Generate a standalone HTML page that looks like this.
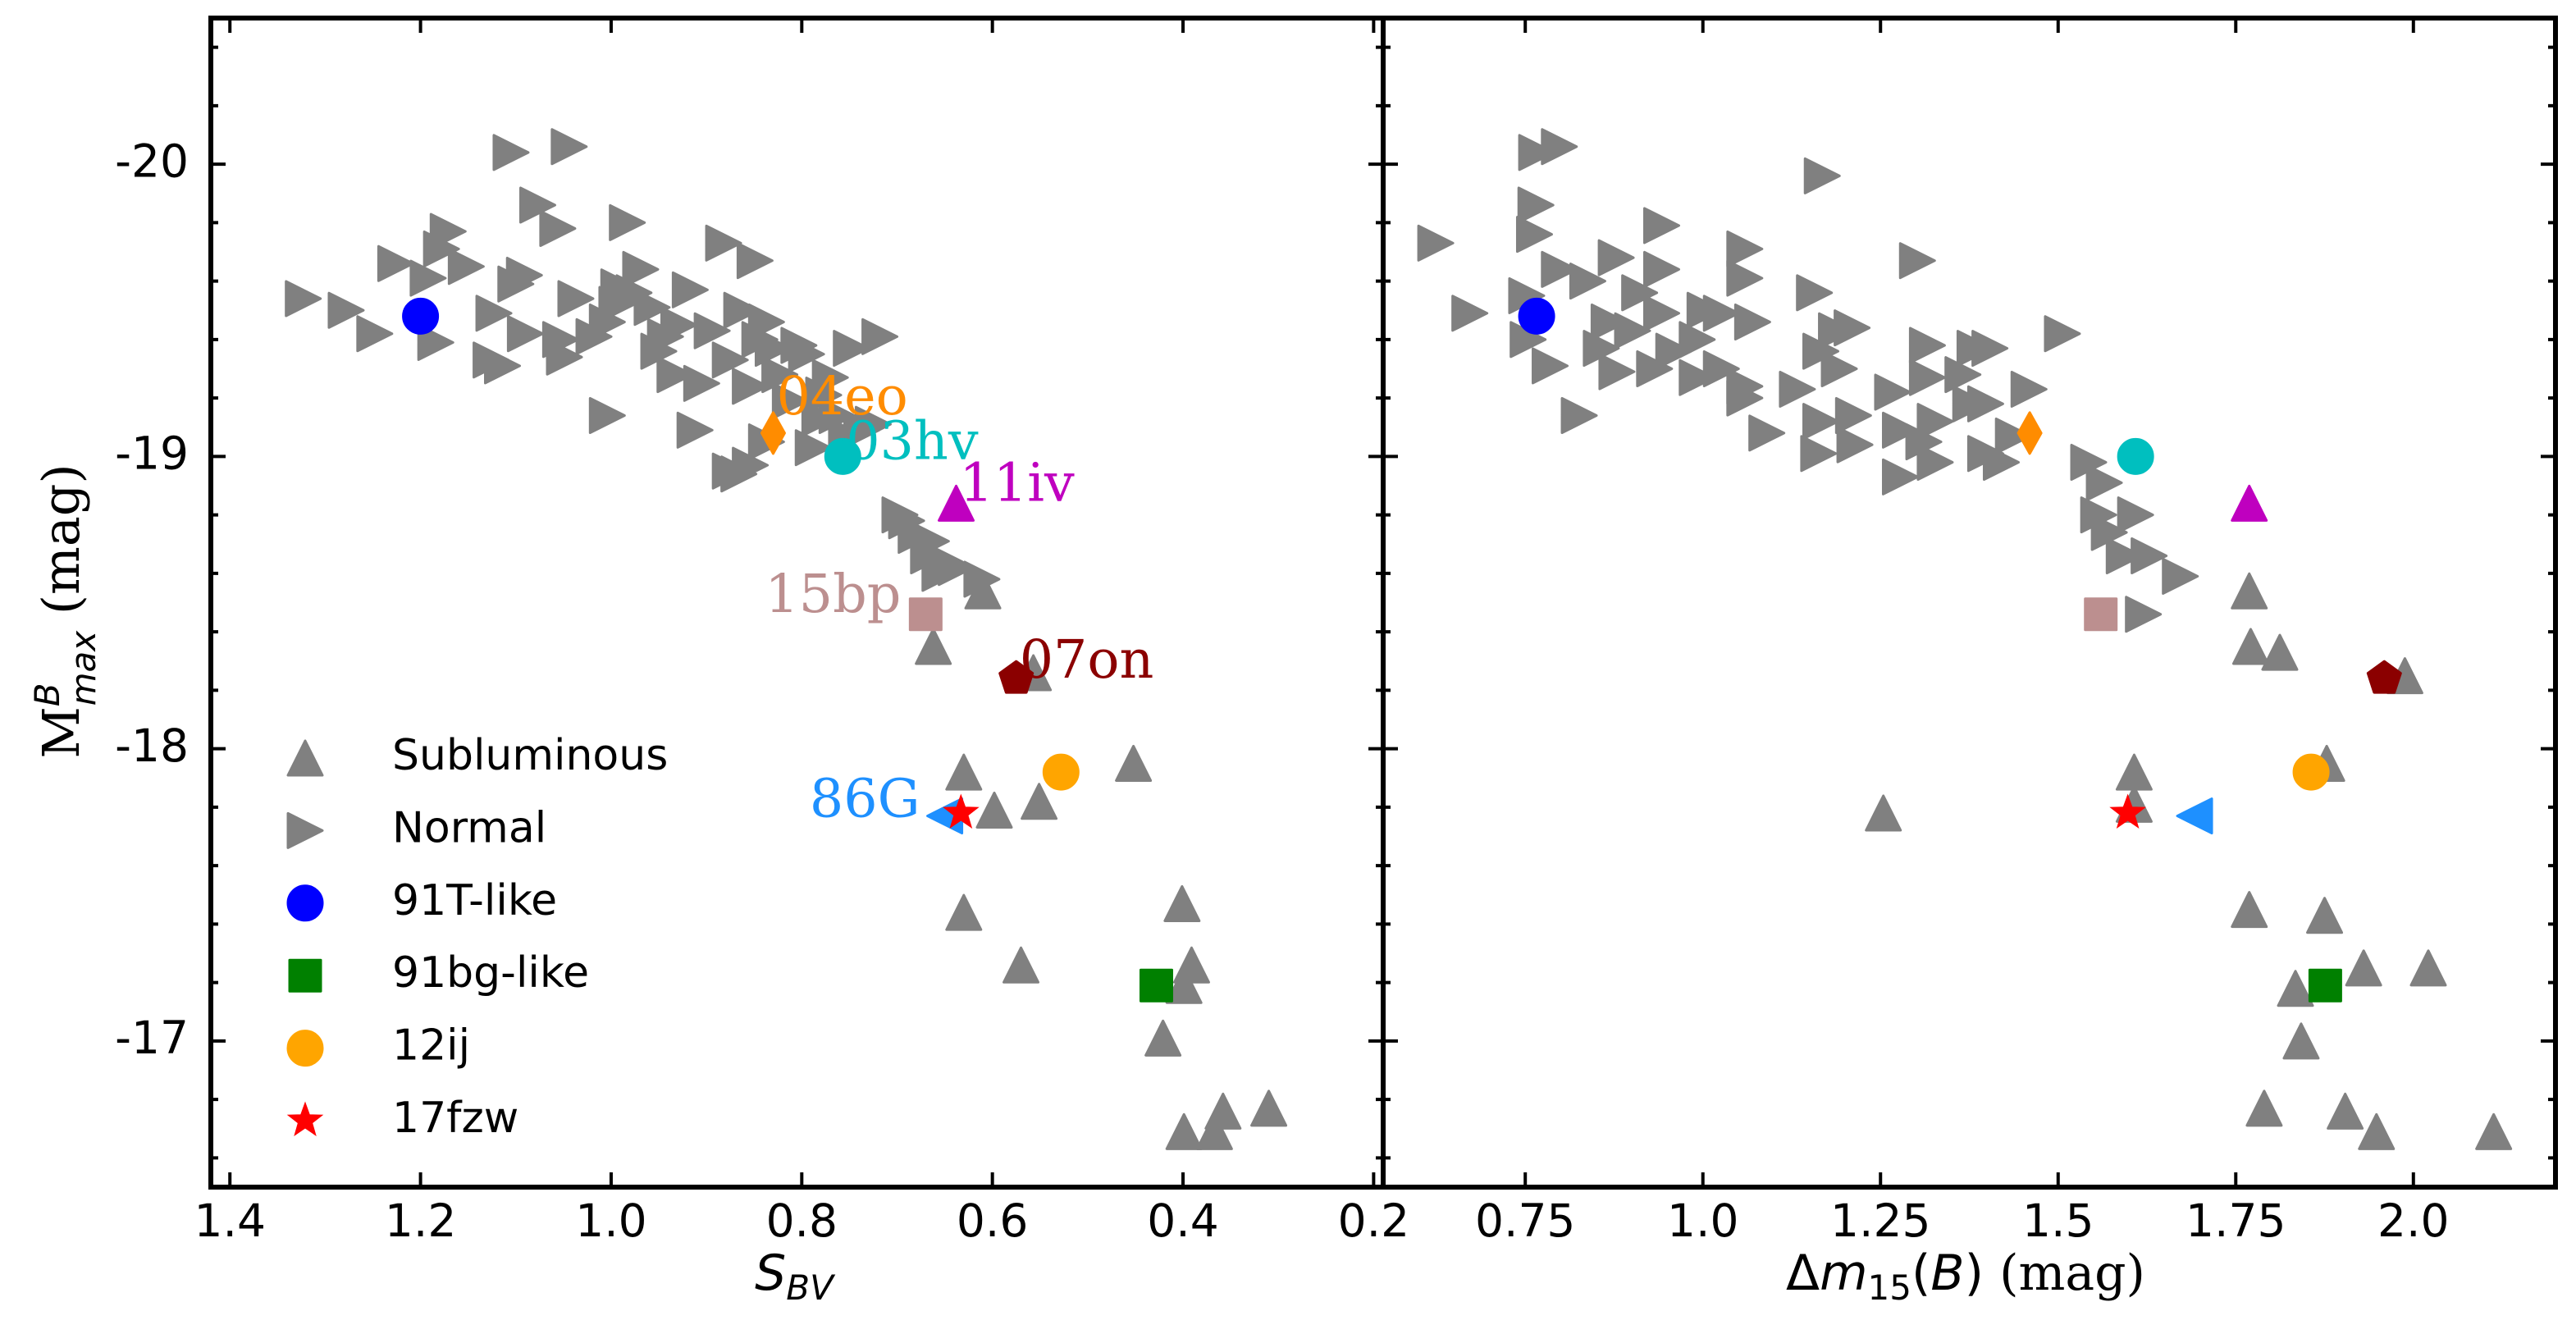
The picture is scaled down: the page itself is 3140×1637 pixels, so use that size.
<!DOCTYPE html>
<html><head><meta charset="utf-8"><style>
html,body{margin:0;padding:0;background:#fff;}
svg{display:block;}
</style></head><body>
<svg id="chart" width="3140" height="1637" viewBox="0 0 3140 1637" xmlns="http://www.w3.org/2000/svg" font-family="DejaVu Sans, Liberation Sans, sans-serif">
<rect width="3140" height="1637" fill="#fff"/>
<g id="marks"></g>
<g id="axes"></g>
</svg>
<script>
// ---- data: left panel (s_BV, M_B) ----
const leftNormalX = [1.323,1.278,1.248,1.226,1.192,1.184,1.178,1.171,1.152,1.126,1.123,1.114,1.100,1.091,1.090,1.105,1.044,1.077,1.056,1.053,1.037,1.049,1.018,1.004,1.004,0.992,0.983,0.994,0.976,0.969,0.957,0.950,0.943,0.933,0.929,0.917,0.912,0.905,0.894,0.882,0.875,0.863,0.854,0.849,0.844,0.837,0.830,0.823,0.812,0.803,0.795,0.788,0.781,0.777,0.770,0.763,0.753,0.748,0.737,0.718,0.725,0.697,0.680,0.664,0.650,0.611,0.638,0.655,0.866,0.854,0.837,0.875,0.667,0.690];
const leftNormalY = [-19.54,-19.50,-19.42,-19.66,-19.61,-19.39,-19.71,-19.77,-19.65,-19.33,-19.49,-19.31,-19.59,-19.62,-19.42,-20.04,-20.06,-19.86,-19.78,-19.40,-19.54,-19.34,-19.41,-19.46,-19.14,-19.58,-19.80,-19.52,-19.56,-19.64,-19.51,-19.36,-19.41,-19.28,-19.45,-19.57,-19.09,-19.25,-19.43,-19.73,-19.33,-19.50,-19.24,-19.67,-19.40,-19.46,-19.37,-19.28,-19.19,-19.38,-19.35,-19.03,-19.13,-19.21,-19.27,-19.14,-19.07,-19.37,-19.09,-19.41,-19.11,-18.80,-18.73,-18.71,-18.64,-18.58,-18.62,-18.60,-18.94,-18.97,-19.05,-18.95,-18.66,-18.78];
const leftSubX = [0.610,0.662,0.557,0.630,0.598,0.551,0.452,0.630,0.570,0.401,0.391,0.399,0.421,0.399,0.358,0.367,0.310];
const leftSubY = [-18.54,-18.35,-18.26,-17.92,-17.79,-17.82,-17.95,-17.44,-17.26,-17.47,-17.26,-17.19,-17.01,-16.69,-16.76,-16.69,-16.77];
// ---- data: right panel (dm15, M_B) ----
const rightNormalX = [0.624,0.672,0.766,0.798,0.765,0.763,0.752,0.754,0.798,0.838,0.785,0.826,0.878,0.911,0.942,0.942,0.942,0.868,0.901,0.857,0.879,0.932,0.959,0.992,0.992,1.003,1.026,1.059,1.059,1.070,1.026,1.059,1.059,1.090,1.133,1.157,1.168,1.166,1.188,1.166,1.163,1.192,1.212,1.214,1.210,1.267,1.278,1.278,1.302,1.316,1.316,1.327,1.311,1.327,1.377,1.366,1.383,1.404,1.398,1.398,1.420,1.437,1.459,1.506,1.543,1.565,1.557,1.572,1.609,1.593,1.628,1.672,1.620];
const rightNormalY = [-19.73,-19.49,-20.04,-20.06,-19.86,-19.76,-19.55,-19.40,-19.64,-19.60,-19.31,-19.14,-19.68,-19.56,-19.79,-19.64,-19.49,-19.46,-19.43,-19.37,-19.29,-19.30,-19.36,-19.40,-19.27,-19.50,-19.49,-19.71,-19.61,-19.46,-19.30,-19.24,-19.20,-19.08,-19.23,-19.56,-19.96,-19.36,-19.43,-19.12,-19.01,-19.30,-19.14,-19.04,-19.44,-19.22,-19.09,-18.93,-19.67,-19.38,-19.27,-19.12,-19.05,-18.98,-19.18,-19.28,-19.37,-19.37,-19.18,-19.01,-18.98,-19.07,-19.23,-19.42,-18.98,-18.91,-18.80,-18.74,-18.80,-18.66,-18.66,-18.59,-18.46];
const rightSubX = [1.769,1.771,1.812,1.988,1.878,1.607,1.607,1.254,1.769,1.875,1.930,2.021,1.834,1.842,1.790,1.904,1.948,2.113];
const rightSubY = [-18.54,-18.35,-18.33,-18.25,-17.95,-17.92,-17.81,-17.78,-17.45,-17.43,-17.25,-17.25,-17.18,-17.00,-16.77,-16.76,-16.69,-16.69];
// ---- special objects ----
const specialNames = ['91T','04eo','03hv','11iv','15bp','07on','12ij','86G','17fzw','91bg'];
const specialSbv   = [1.200,0.830,0.757,0.638,0.670,0.575,0.528,0.650,0.633,0.428];
const specialDm15  = [0.766,1.460,1.609,1.769,1.560,1.959,1.856,1.692,1.598,1.876];
const specialMag   = [-19.48,-19.08,-19.00,-18.84,-18.46,-18.24,-17.92,-17.77,-17.78,-17.19];
const specialShape = ['circle','diamond','circle','tri','square','pent','circle','left','star','square'];
const specialColor = ['#0000ff','#ff8c00','#00bfbf','#bf00bf','#bc8f8f','#8b0000','#ffa500','#1e90ff','#ff0000','#008000'];
const leftXTicks = [1.4,1.2,1.0,0.8,0.6,0.4,0.2];
const leftXTickLabels = ['1.4','1.2','1.0','0.8','0.6','0.4','0.2'];
const rightXTicks = [0.75,1.0,1.25,1.5,1.75,2.0];
const rightXTickLabels = ['0.75','1.0','1.25','1.5','1.75','2.0'];
const yTicks = [-20,-19,-18,-17];
const yTickLabels = ['-20','-19','-18','-17'];
const legendLabels = ['Subluminous','Normal','91T-like','91bg-like','12ij','17fzw'];

const NS='http://www.w3.org/2000/svg';
const marks=document.getElementById('marks'), axes=document.getElementById('axes');
const TOP=22, BOT=1447, L1=257, MID=1686, R2=3115;
const yScale = m => TOP + (m - (-20.5)) / 4.0 * (BOT-TOP);
const xLeft = v => L1 + (1.42 - v) / (1.42-0.19) * (MID-L1);
const xRight = v => MID + (v - 0.55) / (2.2-0.55) * (R2-MID);

function mk(tag, attrs, parent){const e=document.createElementNS(NS,tag);for(const k in attrs)e.setAttribute(k,attrs[k]);(parent||marks).appendChild(e);return e;}
function marker(shape,cx,cy,color,parent,name){
  const r=21;let e;
  const st={fill:color,stroke:color,'stroke-width':3,'stroke-linejoin':'round'};
  if(shape==='tri'){e=mk('polygon',Object.assign({points:`${cx},${cy-r} ${cx-r},${cy+r} ${cx+r},${cy+r}`},st),parent);}
  else if(shape==='right'){e=mk('polygon',Object.assign({points:`${cx+r},${cy} ${cx-r},${cy-r} ${cx-r},${cy+r}`},st),parent);}
  else if(shape==='left'){e=mk('polygon',Object.assign({points:`${cx-r},${cy} ${cx+r},${cy-r} ${cx+r},${cy+r}`},st),parent);}
  else if(shape==='circle'){e=mk('circle',Object.assign({cx:cx,cy:cy,r:r},st),parent);}
  else if(shape==='square'){e=mk('rect',Object.assign({x:cx-19,y:cy-19,width:38,height:38},st),parent);}
  else if(shape==='diamond'){e=mk('polygon',Object.assign({points:`${cx},${cy-25} ${cx-14},${cy} ${cx},${cy+25} ${cx+14},${cy}`},st),parent);}
  else if(shape==='pent'){let p=[];for(let i=0;i<5;i++){const a=-Math.PI/2+i*2*Math.PI/5;p.push((cx+r*Math.cos(a)).toFixed(1)+','+(cy+r*Math.sin(a)).toFixed(1));}e=mk('polygon',Object.assign({points:p.join(' ')},st),parent);}
  else if(shape==='star'){let p=[];for(let i=0;i<10;i++){const rr=i%2?9:22;const a=-Math.PI/2+i*Math.PI/5;p.push((cx+rr*Math.cos(a)).toFixed(1)+','+(cy+rr*Math.sin(a)).toFixed(1));}e=mk('polygon',Object.assign({points:p.join(' ')},{fill:color,stroke:color,'stroke-width':1}),parent);}
  
  
  return e;
}
const defs=mk('defs',{},document.getElementById('chart'));
const c1=mk('clipPath',{id:'c1'},defs);mk('rect',{x:L1,y:TOP,width:MID-L1,height:BOT-TOP},c1);
const c2=mk('clipPath',{id:'c2'},defs);mk('rect',{x:MID,y:TOP,width:R2-MID,height:BOT-TOP},c2);
const g1=mk('g',{'clip-path':'url(#c1)'});
const g2=mk('g',{'clip-path':'url(#c2)'});

leftNormalX.forEach((v,i)=>marker('right',xLeft(v),yScale(leftNormalY[i]),'#808080',g1,'normal-point'));
leftSubX.forEach((v,i)=>marker('tri',xLeft(v),yScale(leftSubY[i]),'#808080',g1,'subluminous-point'));
rightNormalX.forEach((v,i)=>marker('right',xRight(v),yScale(rightNormalY[i]),'#808080',g2,'normal-point'));
rightSubX.forEach((v,i)=>marker('tri',xRight(v),yScale(rightSubY[i]),'#808080',g2,'subluminous-point'));
specialNames.forEach((n,i)=>{
  marker(specialShape[i],xLeft(specialSbv[i]),yScale(specialMag[i]),specialColor[i],g1,'sn-'+n+'-marker');
  marker(specialShape[i],xRight(specialDm15[i]),yScale(specialMag[i]),specialColor[i],g2,'sn-'+n+'-marker');
});
// annotations (left panel)
const annNames=['04eo','03hv','11iv','15bp','07on','86G'];
const annDx=[4,4,4,-30,4,-30], annDy=[-40,-14,-20,-20,-18,-16], annAnchor=['start','start','start','end','start','end'];
annNames.forEach((n,k)=>{
  const i=specialNames.indexOf(n);
  const t=mk('text',{x:xLeft(specialSbv[i])+annDx[k],y:yScale(specialMag[i])+annDy[k],'text-anchor':annAnchor[k],'dominant-baseline':'middle','font-family':'DejaVu Serif, Liberation Serif, serif','font-size':65,fill:specialColor[i]});
  t.textContent=n;
  
  
});
// legend
const legShape=['tri','right','circle','square','circle','star'];
const legColor=['#808080','#808080','#0000ff','#008000','#ffa500','#ff0000'];
legendLabels.forEach((lab,i)=>{
  const y=924+i*88.4;
  marker(legShape[i],372,y,legColor[i],marks,'legend-marker-'+lab.toLowerCase());
  const t=mk('text',{x:478,y:y,'dominant-baseline':'middle','font-size':52,fill:'#000'});
  t.textContent=lab;
  
  
});
function line(x1,y1,x2,y2,w,p){return mk('line',{x1,y1,x2,y2,stroke:'#000','stroke-width':w},p);}
[[L1,MID],[MID,R2]].forEach(([a,b],pi)=>{
  const fr=mk('rect',{x:a,y:TOP,width:b-a,height:BOT-TOP,fill:'none',stroke:'#000','stroke-width':6},axes);
  
  
  for(let m=-20.4;m<=-16.5;m+=0.2){
    const yy=yScale(m); const major=Math.abs(m-Math.round(m))<0.01;
    const len=major?18:9;
    line(a,yy,a+len,yy,4,axes); line(b,yy,b-len,yy,4,axes);
  }
});
yTicks.forEach((m,i)=>{
  const t=mk('text',{x:230,y:yScale(m),'text-anchor':'end','dominant-baseline':'middle','font-size':55},axes);
  t.textContent=yTickLabels[i];
  
  
});
leftXTicks.forEach((v,i)=>{
  const x=xLeft(v); line(x,BOT,x,BOT-18,4,axes); line(x,TOP,x,TOP+18,4,axes);
  const t=mk('text',{x:x,y:1492,'text-anchor':'middle','dominant-baseline':'middle','font-size':55},axes);
  t.textContent=leftXTickLabels[i];
  
  
});
rightXTicks.forEach((v,i)=>{
  const x=xRight(v); line(x,BOT,x,BOT-18,4,axes); line(x,TOP,x,TOP+18,4,axes);
  const t=mk('text',{x:x,y:1492,'text-anchor':'middle','dominant-baseline':'middle','font-size':55},axes);
  t.textContent=rightXTickLabels[i];
  
  
});
</script>
<svg style="position:absolute;left:0;top:0" width="3140" height="1637">
<text x="968" y="1572" text-anchor="middle" font-family="DejaVu Sans, sans-serif" font-size="60" font-style="italic">S<tspan font-size="42" dy="12">BV</tspan></text>
<text x="2396" y="1572" text-anchor="middle" font-size="60"><tspan font-family="DejaVu Sans, sans-serif">Δ</tspan><tspan font-family="DejaVu Sans, sans-serif" font-style="italic">m</tspan><tspan font-family="DejaVu Sans, sans-serif" font-size="42" dy="12">15</tspan><tspan font-family="DejaVu Sans, sans-serif" dy="-12">(</tspan><tspan font-family="DejaVu Sans, sans-serif" font-style="italic">B</tspan><tspan font-family="DejaVu Sans, sans-serif">)</tspan><tspan font-family="DejaVu Serif, serif"> (mag)</tspan></text>
<text transform="translate(96,745) rotate(-90)" text-anchor="middle" font-size="62"><tspan font-family="DejaVu Serif, serif">M</tspan><tspan font-family="DejaVu Sans, sans-serif" font-style="italic" font-size="42" dy="-24">B</tspan><tspan font-family="DejaVu Sans, sans-serif" font-style="italic" font-size="42" dx="-28" dy="44">max</tspan><tspan font-family="DejaVu Serif, serif" dy="-20"> (mag)</tspan></text>
</svg>
</body></html>
